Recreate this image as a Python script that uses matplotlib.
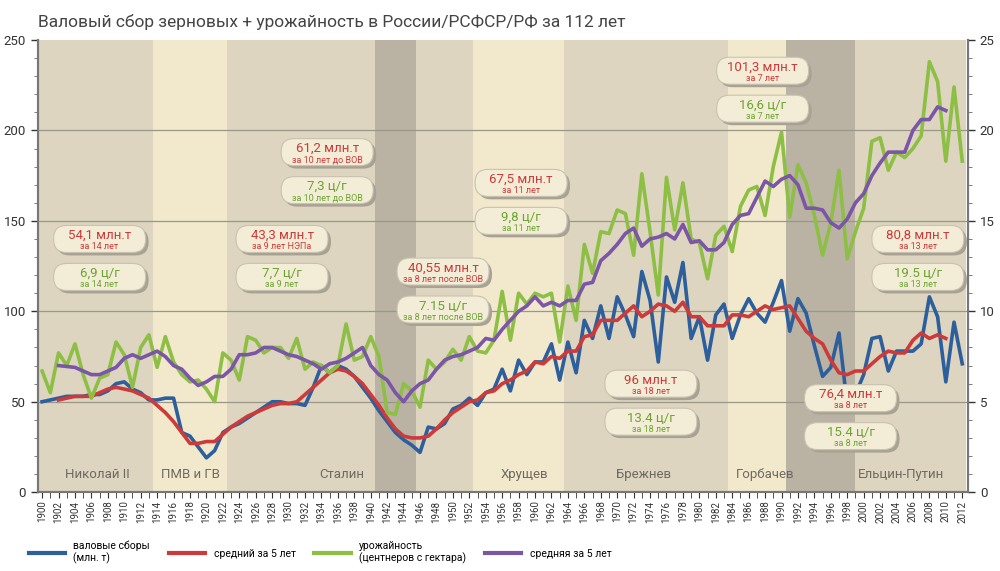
import numpy as np
import matplotlib
matplotlib.use('Agg')
import matplotlib.pyplot as plt
import matplotlib.transforms as mtransforms
from matplotlib.patches import FancyBboxPatch
from matplotlib.ticker import MultipleLocator

plt.rcParams['font.family'] = ['Roboto', 'DejaVu Sans']

years = list(range(1900, 2013))
avg_years = list(range(1902, 2011))

harvest = [50, 51, 52, 53, 53, 53, 54, 54, 56, 60, 61, 57, 55, 51, 51, 52, 52, 33, 31, 25,
           19, 23, 33, 36, 38, 41, 44, 47, 50, 50, 49, 49, 48, 58, 70, 66, 70, 68, 64, 58,
           52, 45, 39, 33, 29, 26, 22, 36, 35, 38, 46, 48, 52, 48, 55, 57, 68, 56, 73, 65,
           72, 72, 82, 62, 83, 66, 95, 85, 103, 85, 108, 98, 86, 122, 106, 72, 119, 105, 127, 85,
           97, 73, 98, 104, 85, 98, 107, 99, 94, 105, 117, 89, 107, 99, 81, 64, 69, 88, 48, 54,
           65, 85, 86, 67, 78, 78, 78, 82, 108, 97, 61, 94, 71]

harvest_avg5 = [51, 52, 53, 53, 53, 55, 57, 58, 57, 56, 54, 52, 48, 44, 39, 33, 27, 27, 28, 28,
                32, 36, 39, 42, 44, 46, 48, 49, 49, 50, 54, 58, 62, 66, 68, 67, 64, 60, 54, 48,
                41, 35, 31, 30, 30, 31, 35, 40, 44, 47, 50, 51, 55, 56, 60, 62, 65, 67, 72, 71,
                75, 74, 78, 78, 86, 87, 95, 95, 95, 99, 103, 97, 100, 104, 103, 100, 105, 97, 97, 92,
                92, 92, 98, 98, 97, 100, 103, 101, 102, 103, 96, 89, 85, 82, 73, 66, 65, 67, 67, 71,
                75, 78, 77, 77, 84, 88, 85, 87, 85]

yields = [6.7, 5.5, 7.7, 7.0, 8.2, 6.5, 5.2, 6.3, 6.5, 8.3, 7.6, 5.8, 8.0,
          8.7, 6.9, 8.6, 7.2, 6.5, 6.1, 6.2, 5.7, 5.0, 7.7, 7.3, 6.2, 8.6,
          8.4, 7.7, 8.0, 8.0, 7.4, 8.5, 6.8, 7.2, 7.0, 6.6, 7.0, 9.3, 7.3,
          7.5, 8.6, 7.5, 4.4, 4.3, 6.0, 5.6, 4.7, 7.3, 6.8, 7.2, 7.9, 7.3,
          8.6, 7.8, 7.7, 8.4, 11.1, 8.4, 11.0, 10.4, 11.0, 10.8, 11.0, 8.3, 11.4,
          9.5, 13.7, 12.1, 14.4, 14.3, 15.6, 15.4, 13.1, 17.6, 14.4, 10.9, 17.4, 14.5,
          17.1, 14.0, 13.8, 11.8, 14.2, 14.7, 13.3, 15.8, 16.7, 16.9, 15.3, 18.0, 19.9,
          15.2, 18.1, 17.1, 15.3, 13.1, 14.9, 17.8, 12.9, 14.4, 15.7, 19.4, 19.6, 17.8,
          18.8, 18.5, 19.0, 19.7, 23.8, 22.7, 18.3, 22.4, 18.3]

yields_avg5 = [7.0, 6.95, 6.9, 6.7, 6.5, 6.5, 6.7, 6.9, 7.4, 7.6, 7.4, 7.6, 7.8,
               7.5, 7.0, 6.8, 6.3, 5.9, 6.1, 6.4, 6.4, 6.8, 7.6, 7.6, 7.7, 8.0,
               8.0, 7.8, 7.6, 7.5, 7.3, 7.1, 6.8, 7.1, 7.2, 7.4, 7.7, 8.0, 7.0,
               6.5, 6.2, 5.5, 5.0, 5.6, 6.0, 6.2, 6.8, 7.3, 7.5, 7.6, 7.8, 8.0,
               8.5, 8.4, 9.0, 9.5, 10.0, 10.3, 10.8, 10.3, 10.5, 10.3, 10.6, 10.6, 11.5,
               11.6, 12.8, 13.2, 13.7, 14.3, 14.6, 13.6, 14.0, 14.1, 14.3, 14.0, 14.8, 13.8,
               13.9, 13.4, 13.4, 13.8, 14.8, 15.3, 15.4, 16.3, 17.2, 16.9, 17.3, 17.5, 17.0,
               15.7, 15.7, 15.6, 14.9, 14.6, 15.1, 16.0, 16.5, 17.5, 18.2, 18.8, 18.8, 18.8,
               20.0, 20.6, 20.6, 21.3, 21.1]

# eras: (start, end, shade)
era_bounds = [(1899.5, 1913.5, 'mid'), (1913.5, 1922.5, 'light'), (1922.5, 1940.5, 'mid'),
              (1940.5, 1945.5, 'dark'), (1945.5, 1952.5, 'mid'), (1952.5, 1963.5, 'light'),
              (1963.5, 1983.5, 'mid'), (1983.5, 1990.5, 'light'), (1990.5, 1999.0, 'dark'),
              (1999.0, 2012.5, 'mid')]
era_names = ['Николай II', 'ПМВ и ГВ', 'Сталин', 'Хрущев', 'Брежнев', 'Горбачев', 'Ельцин-Путин']
era_name_x = [1906.7, 1918.0, 1936.5, 1958.7, 1973.2, 1988.0, 2004.5]

# annotation boxes: x (year), y of top box (left axis units), texts
box_x = [1907, 1929.2, 1934.7, 1948.8, 1958.3, 1987.7, 1974.1, 1998.4, 2006.6]
box_y = [140, 140, 188, 122, 171, 233, 60, 52, 140]
box_main = ['54,1 млн.т', '43,3 млн.т', '61,2 млн.т', '40,55 млн.т', '67,5 млн.т',
            '101,3 млн.т', '96 млн.т', '76,4 млн.т', '80,8 млн.т']
box_main_sub = ['за 14 лет', 'за 9 лет НЭПа', 'за 10 лет до ВОВ', 'за 8 лет после ВОВ',
                'за 11 лет', 'за 7 лет', 'за 18 лет', 'за 8 лет', 'за 13 лет']
box_yield = ['6,9 ц/г', '7,7 ц/г', '7,3 ц/г', '7.15 ц/г', '9,8 ц/г',
             '16,6 ц/г', '13.4 ц/г', '15.4 ц/г', '19.5 ц/г']
box_yield_sub = ['за 14 лет', 'за 9 лет', 'за 10 лет до ВОВ', 'за 8 лет после ВОВ',
                 'за 11 лет', 'за 7 лет', 'за 18 лет', 'за 8 лет', 'за 13 лет']

BLUE = '#2d5f9c'
RED = '#cc3a3a'
GREEN = '#8dbf45'
PURPLE = '#7b55a6'
shades = {'mid': '#ddd5bf', 'light': '#f2e9cd', 'dark': '#bab3a4'}

fig = plt.figure(figsize=(10, 5.71), dpi=100)
ax = fig.add_axes([0.038, 0.138, 0.930, 0.792])
ax2 = ax.twinx()

for s, e, kind in era_bounds:
    ax.axvspan(s, e, color=shades[kind], lw=0, zorder=0)
for v in [50, 100, 150, 200]:
    ax.axhline(v, color='#9a9688', lw=0.9, zorder=1)
for name, xx in zip(era_names, era_name_x):
    ax.text(xx, 10, name, ha='center', va='center', fontsize=9.5, color='#6e6a62', zorder=2)

ax.plot(years, harvest, color=BLUE, lw=2.6, zorder=3)
ax.plot(avg_years, harvest_avg5, color=RED, lw=2.6, zorder=4)
ax2.plot(years, yields, color=GREEN, lw=2.6, zorder=3)
ax2.plot(avg_years, yields_avg5, color=PURPLE, lw=2.6, zorder=4)

ax.set_xlim(1899.5, 2012.7)
ax.set_ylim(0, 250)
ax2.set_ylim(0, 25)
ax.yaxis.set_major_locator(MultipleLocator(50))
ax.yaxis.set_minor_locator(MultipleLocator(10))
ax2.yaxis.set_major_locator(MultipleLocator(5))
ax2.yaxis.set_minor_locator(MultipleLocator(1))
ax.set_xticks(range(1900, 2013, 2))
ax.set_xticklabels([str(y) for y in range(1900, 2013, 2)], rotation=90, fontsize=7)
ax.xaxis.set_minor_locator(MultipleLocator(1))
for a in (ax, ax2):
    a.tick_params(axis='y', labelsize=9.5, colors='#333333', length=5, width=1)
    a.tick_params(axis='y', which='minor', length=3, colors='#666666')
    a.spines['top'].set_visible(False)
    for sp in ('left', 'right', 'bottom'):
        a.spines[sp].set_color('#777777')
        a.spines[sp].set_linewidth(1.5)
ax.tick_params(axis='x', which='both', length=4, colors='#333333', pad=2)

# rounded annotation boxes, sized in inches around a data anchor
bw, bh = 0.92, 0.27
ax2.set_zorder(ax.get_zorder() + 1)
for i in range(len(box_x)):
    for t1, t2, col, dy in [(box_main[i], box_main_sub[i], RED, 0),
                            (box_yield[i], box_yield_sub[i], '#6aa530', -21)]:
        yv = (box_y[i] + dy) / 10
        tr = fig.dpi_scale_trans + mtransforms.ScaledTranslation(box_x[i], yv, ax2.transData)
        sh = FancyBboxPatch((-bw / 2 + 0.03, -bh / 2 - 0.03), bw, bh,
                            boxstyle='round,pad=0,rounding_size=0.13',
                            fc='#a8a294', ec='none', transform=tr, zorder=8)
        bx = FancyBboxPatch((-bw / 2, -bh / 2), bw, bh,
                            boxstyle='round,pad=0,rounding_size=0.13',
                            fc='#f3ecd6', ec='#c9c2b0', lw=0.8, transform=tr, zorder=9)
        ax2.add_patch(sh)
        ax2.add_patch(bx)
        ax2.text(0, 0.035, t1, transform=tr, ha='center', va='center', fontsize=9.5,
                 color=col, zorder=10)
        ax2.text(0, -0.075, t2, transform=tr, ha='center', va='center', fontsize=6.5,
                 color=col, zorder=10)

fig.text(0.038, 0.962, 'Валовый сбор зерновых + урожайность в России/РСФСР/РФ за 112 лет',
         fontsize=12.5, color='#444444', ha='left', va='center')

handles = [plt.Line2D([], [], color=c, lw=3) for c in (BLUE, RED, GREEN, PURPLE)]
labels = ['валовые сборы\n(млн. т)', 'средний за 5 лет', 'урожайность\n(центнеров с гектара)',
          'средняя за 5 лет']
fig.legend(handles, labels, ncol=4, loc='lower center', bbox_to_anchor=(0.32, -0.005),
           frameon=False, fontsize=7.5, handlelength=3.5, columnspacing=1.8)

fig.savefig('out.png', dpi=100, facecolor='white')
